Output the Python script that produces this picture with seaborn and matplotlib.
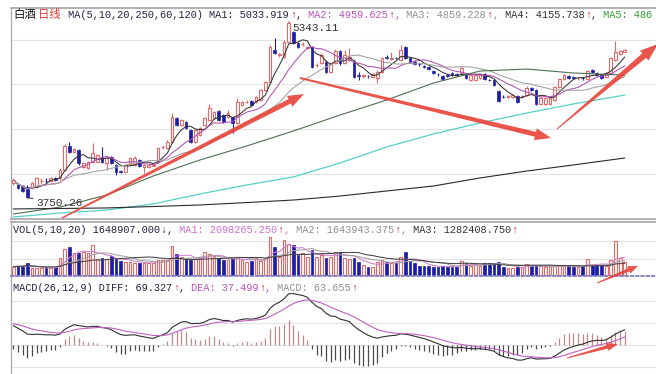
import numpy as np
import pandas as pd
import matplotlib
matplotlib.use("Agg")
import matplotlib.pyplot as plt
from matplotlib.patches import Polygon
import seaborn as sns

# ---------------- data ----------------
opens = [3881,3872,3859,3850,3844,3850,3901,3904,3904,3931,
         3926,4001,4222,4162,4183,4031,4017,4077,4077,4122,
         4062,4122,4047,3990,3986,4053,4047,4089,4028,4030,
         4040,4077,4210,4198,4258,4470,4409,4439,4364,4258,
         4319,4409,4455,4473,4536,4500,4482,4482,4428,4591,
         4618,4627,4618,4636,4727,4799,5090,5044,5026,5162,
         5253,5153,5140,5108,5117,4950,4972,4984,4893,4969,
         5081,4969,5000,4984,4860,4858,4852,4847,4833,4893,
         5029,5012,5016,5000,5120,5014,4984,4962,4940,4938,
         4899,4870,4854,4860,4878,4870,4878,4869,4818,4818,
         4833,4869,4820,4818,4718,4666,4665,4666,4672,4665,
         4681,4748,4727,4597,4597,4597,4636,4757,4827,4854,
         4847,4833,4834,4827,4908,4878,4869,4847,4878,5000,
         5051,5074]
closes = [3911,3835,3813,3756,3881,3926,3906,3901,3926,3911,
          4001,4222,4167,4192,4062,4062,4077,4153,4137,4077,
          4107,4062,3986,3986,4047,4113,4113,4040,4047,4047,
          4050,4198,4214,4258,4485,4409,4455,4379,4258,4364,
          4379,4473,4564,4527,4455,4437,4518,4428,4618,4618,
          4620,4591,4663,4727,4799,5117,5062,5049,5162,5334,
          5153,5117,5144,5117,4935,4953,5044,4893,4969,5081,
          4969,5044,5029,4847,4857,4860,4850,4869,4893,5014,
          5014,5016,5014,5090,5014,4984,4963,4960,4938,4917,
          4878,4868,4827,4858,4863,4866,4924,4833,4863,4863,
          4869,4827,4818,4772,4627,4664,4667,4681,4615,4668,
          4742,4727,4597,4657,4652,4652,4757,4827,4863,4833,
          4833,4835,4832,4899,4893,4863,4838,4878,5014,5069,
          5081,5090]
highs = [3929,3883,3868,3861,3892,3938,3929,3926,3935,3940,
         4019,4233,4258,4200,4196,4070,4085,4243,4150,4213,
         4115,4130,4055,4000,4055,4122,4125,4100,4055,4055,
         4060,4210,4230,4273,4518,4480,4465,4450,4372,4372,
         4390,4485,4600,4540,4545,4510,4545,4490,4655,4630,
         4635,4640,4675,4740,4810,5135,5199,5065,5180,5343.11,
         5265,5165,5160,5130,5125,4975,5060,4995,4980,5095,
         5090,5090,5108,4995,4890,4875,4865,4880,4905,5025,
         5040,5071,5030,5135,5130,5025,4995,4975,4952,4948,
         4910,4882,4865,4872,4888,4880,4935,4880,4872,4872,
         4878,4878,4830,4828,4728,4678,4678,4690,4682,4680,
         4766,4758,4735,4665,4660,4662,4765,4836,4872,4862,
         4855,4845,4845,4908,4915,4888,4876,4888,5025,5171,
         5090,5098]
lows = [3865,3829,3806,3750.26,3829,3843,3874,3880,3895,3904,
        3915,3992,4155,4155,4051,4019,4010,4068,4070,4068,
        4001,4055,3956,3970,3980,4045,4040,4030,3974,4020,
        4035,4068,4195,4190,4250,4400,4400,4370,4250,4250,
        4310,4400,4445,4465,4445,4428,4475,4337,4420,4582,
        4605,4582,4610,4628,4718,4790,5050,5030,5015,5150,
        5145,5105,5125,5100,4925,4935,4962,4885,4885,4960,
        4955,4960,4990,4838,4818,4840,4835,4838,4790,4885,
        5005,5000,5005,4990,5005,4975,4955,4948,4928,4908,
        4870,4858,4818,4848,4855,4858,4870,4825,4810,4810,
        4825,4818,4805,4765,4618,4655,4655,4658,4605,4655,
        4672,4718,4588,4590,4590,4590,4628,4748,4818,4825,
        4825,4822,4822,4818,4885,4855,4830,4840,4870,4990,
        5045,5068]
volume_k = [1033,1115,1115,1446,826,826,826,826,909,1033,
            2065,3180,3428,2685,2685,2891,2685,3717,1941,2065,
            1941,2354,1941,1776,1652,1652,1528,1528,1446,1446,
            1528,1859,1859,1859,3593,2561,2272,1941,1859,1941,
            2272,2891,2602,2354,2065,1859,1859,1941,2189,1859,
            1652,1776,2065,1776,2065,4750,3511,2272,4337,3841,
            3717,2478,2685,2272,3098,2272,2478,2065,2272,2891,
            2891,2065,1941,2065,1652,1239,1033,1033,1652,1859,
            1652,1446,1528,2189,2891,1776,1528,1115,1115,1115,
            1033,1033,1115,1033,1033,1033,1776,1446,1115,1363,
            1115,1446,1528,1528,1652,950,826,826,1033,1033,
            1363,1115,1239,1115,1033,1115,1115,1115,1115,1115,
            1033,1033,1115,1941,1239,1239,1239,1115,1859,4254,
            2065,1649]

# long moving averages (read at sparse candles)
long_ma_idx = [0, 10, 20, 30, 40, 50, 60, 70, 80, 90, 100, 110, 120, 131]
ma60_vals  = [3602, 3665, 3774, 3947, 4092, 4219, 4355, 4500, 4636, 4790, 4899, 4917, 4881, 4862]
ma120_vals = [3575, 3611, 3638, 3693, 3784, 3865, 3938, 4065, 4210, 4328, 4428, 4518, 4600, 4681]
ma250_vals = [3648, 3652, 3657, 3670, 3684, 3706, 3729, 3765, 3811, 3856, 3929, 3992, 4047, 4110]

# MACD state at the start of the window
EMA12_START = 3900.0
EMA26_START = 3805.0
DEA_START = 100.0

main_grid = [5180, 4781, 4373, 3965]
vol_grid = [4216, 1984]
macd_grid = [202.4, 101.2, 0.0, -101.2]

# ---------------- derived indicators ----------------
cs = pd.Series(closes, dtype=float)
ma5 = cs.rolling(5, min_periods=1).mean()
ma10 = cs.rolling(10, min_periods=1).mean()
ma20 = cs.rolling(20, min_periods=1).mean()
vs = pd.Series(volume_k, dtype=float)
vma5 = vs.rolling(5, min_periods=1).mean()
vma10 = vs.rolling(10, min_periods=1).mean()
vma20 = vs.rolling(20, min_periods=1).mean()


def ema(vals, span, start):
    a = 2.0 / (span + 1)
    e = start
    out = []
    for v in vals:
        e = a * v + (1 - a) * e
        out.append(e)
    return np.array(out)


diff = ema(closes, 12, EMA12_START) - ema(closes, 26, EMA26_START)
dea = ema(diff, 9, DEA_START)
macd = 2 * (diff - dea)

# ---------------- figure ----------------
sns.set_theme(style="white")
plt.rcParams['font.family'] = ['Liberation Mono', 'DejaVu Sans Mono', 'Noto Sans CJK SC']

W, H = 656, 374
fig = plt.figure(figsize=(W / 100, H / 100), dpi=100)
fig.patch.set_facecolor('white')


def rect(x0, y0, x1, y1):
    return [x0 / W, 1 - y1 / H, (x1 - x0) / W, (y1 - y0) / H]


ax1 = fig.add_axes(rect(11, 8, 656, 219))
ax2 = fig.add_axes(rect(11, 222, 656, 276))
ax3 = fig.add_axes(rect(11, 276, 656, 374))

n = len(closes)
idx = np.arange(n)
SP = '#a8a8a8'
for ax in (ax1, ax2, ax3):
    ax.set_xlim(-0.49, 137.7)
    ax.set_xticks([])
    ax.set_yticks([])
    ax.set_facecolor('white')
    for s in ax.spines.values():
        s.set_visible(False)
    ax.spines['left'].set_visible(True)
    ax.spines['left'].set_color(SP)
    ax.spines['left'].set_linewidth(0.9)
ax1.spines['top'].set_visible(True); ax1.spines['top'].set_color(SP)
ax1.spines['bottom'].set_visible(True); ax1.spines['bottom'].set_color(SP)
ax2.spines['top'].set_visible(True); ax2.spines['top'].set_color(SP)
ax3.spines['top'].set_visible(True); ax3.spines['top'].set_color('#7c7cc4')
ax3.spines['top'].set_linestyle((0, (1.5, 1.5)))
ax3.spines['top'].set_zorder(6)

ax1.set_ylim(3556.8, 5470.6)
ax2.set_ylim(-124, 6572)
ax3.set_ylim(-133.4, 317.4)

for g in main_grid:
    ax1.axhline(g, color='#e2e2e2', lw=0.8, zorder=0)
for g in vol_grid:
    ax2.axhline(g, color='#e2e2e2', lw=0.8, zorder=0)
for g in macd_grid:
    ax3.axhline(g, color='#e2e2e2', lw=0.8, zorder=0)

UP = '#e46a6a'
DN = '#1c1ca6'
o = np.array(opens, float); c = np.array(closes, float)
h = np.array(highs, float); l = np.array(lows, float)
up = c >= o
top = np.maximum(o, c); bot = np.minimum(o, c)
body = np.maximum(top - bot, 3.0)
cols = np.where(up, UP, DN)
bw = 0.62

ax1.vlines(idx, top, h, colors=cols, lw=0.8, zorder=3)
ax1.vlines(idx, l, bot, colors=cols, lw=0.8, zorder=3)
ax1.bar(idx[up], body[up], bottom=bot[up], width=bw, facecolor='white',
        edgecolor=UP, linewidth=0.8, zorder=3)
ax1.bar(idx[~up], body[~up], bottom=bot[~up], width=bw, facecolor=DN,
        edgecolor=DN, linewidth=0.5, zorder=3)

# moving averages
sns.lineplot(x=idx, y=ma5.values, ax=ax1, color='#333333', lw=0.75, zorder=4)
sns.lineplot(x=idx, y=ma10.values, ax=ax1, color='#b050b0', lw=0.75, zorder=4)
sns.lineplot(x=idx, y=ma20.values, ax=ax1, color='#a0a0a0', lw=0.75, zorder=4)
sns.lineplot(x=long_ma_idx, y=ma60_vals, ax=ax1, color='#4f6f52', lw=0.8, zorder=4)
sns.lineplot(x=long_ma_idx, y=ma120_vals, ax=ax1, color='#55cfc8', lw=0.9, zorder=4)
sns.lineplot(x=long_ma_idx, y=ma250_vals, ax=ax1, color='#2a2a2a', lw=0.8, zorder=4)

# extreme labels
i_lo = int(np.argmin(l)); i_hi = int(np.argmax(h))
ax1.annotate(f"{l[i_lo]:.2f}", xy=(i_lo, l[i_lo]), xytext=(9, -5),
             textcoords='offset pixels', va='center', ha='left', fontsize=7.9,
             color='#333333', zorder=6,
             arrowprops=dict(arrowstyle='-', color='#333333', lw=0.7,
                             shrinkA=0, shrinkB=0))
ax1.annotate(f"{h[i_hi]:.2f}", xy=(i_hi, h[i_hi]), xytext=(4, -6),
             textcoords='offset pixels', va='center', ha='left', fontsize=7.9,
             color='#333333', zorder=6,
             arrowprops=dict(arrowstyle='-', color='#333333', lw=0.7,
                             shrinkA=0, shrinkB=0))

# volume
v = np.array(volume_k, float)
ax2.bar(idx[up], v[up], width=bw, facecolor='white', edgecolor=UP, linewidth=0.8, zorder=3)
ax2.bar(idx[~up], v[~up], width=bw, facecolor=DN, edgecolor=DN, linewidth=0.5, zorder=3)
sns.lineplot(x=idx, y=vma5.values, ax=ax2, color='#d080d0', lw=0.75, zorder=4)
sns.lineplot(x=idx, y=vma10.values, ax=ax2, color='#a0a0a0', lw=0.75, zorder=4)
sns.lineplot(x=idx, y=vma20.values, ax=ax2, color='#444444', lw=0.75, zorder=4)

# MACD
mcols = np.where(macd >= 0, '#c08a8a', '#4a4a4a')
ax3.vlines(idx, 0, macd, colors=mcols, lw=0.9, zorder=3)
sns.lineplot(x=idx, y=diff, ax=ax3, color='#303030', lw=0.8, zorder=4)
sns.lineplot(x=idx, y=dea, ax=ax3, color='#c060c0', lw=0.8, zorder=4)

# ---------------- overlay: headers & arrows ----------------
ov = fig.add_axes([0, 0, 1, 1])
ov.set_xlim(0, W); ov.set_ylim(H, 0); ov.axis('off'); ov.set_zorder(10)
ov.patch.set_alpha(0)

CW = 6.15
DARK = '#222244'; RED = '#c02020'; VIO = '#c050c0'; GRY = '#909090'; GRN = '#30a030'


def header(y, segs):
    x = 13.0
    for text, color in segs:
        cjk = any(ord(ch) > 0x2E80 for ch in text)
        units = sum(2 if ord(ch) > 0x2E80 else 1 for ch in text)
        ov.text(x, y, text, color=color, fontsize=8.2 if cjk else 7.38,
                va='center', ha='left',
                family=['Noto Sans CJK SC'] if cjk else ['Liberation Mono', 'DejaVu Sans Mono'])
        x += units * CW


header(14.5, [("白酒", '#111111'), ("日线", '#e03a3a'),
              (" MA(5,10,20,250,60,120) MA1: 5033.919", DARK), ("↑", RED), (",", DARK),
              (" MA2: 4959.625", VIO), ("↑", RED), (",", VIO),
              (" MA3: 4859.228", GRY), ("↑", RED), (",", GRY),
              (" MA4: 4155.738", '#333333'), ("↑", RED), (",", '#333333'),
              (" MA5: 486", GRN)])
header(230, [("VOL(5,10,20) 1648907.000", DARK), ("↓", DARK), (",", DARK),
             (" MA1: 2098265.250", '#d070d0'), ("↑", RED), (",", '#d070d0'),
             (" MA2: 1643943.375", GRY), ("↑", RED), (",", GRY),
             (" MA3: 1282408.750", '#333333'), ("↑", RED)])
header(288, [("MACD(26,12,9) DIFF: 69.327", DARK), ("↑", RED), (",", DARK),
             (" DEA: 37.499", VIO), ("↑", RED), (",", VIO),
             (" MACD: 63.655", GRY), ("↑", RED)])

ARROW = '#e8453c'


def arrow(tail, tip, wt, ws, hw, hl):
    tail = np.array(tail, float); tip = np.array(tip, float)
    d = tip - tail
    u = d / np.hypot(*d)
    nrm = np.array([-u[1], u[0]])
    neck = tip - u * hl
    pts = [tail + nrm * wt / 2, neck + nrm * ws / 2, neck + nrm * hw / 2, tip,
           neck - nrm * hw / 2, neck - nrm * ws / 2, tail - nrm * wt / 2]
    ov.add_patch(Polygon(pts, closed=True, facecolor=ARROW, edgecolor='none',
                         alpha=0.92, zorder=20))


arrow((62, 218), (304, 94), 1.5, 5, 12, 16)
arrow((300, 78), (551, 138), 2, 5, 12, 16)
arrow((557, 129), (658, 44), 1, 6, 13, 18)
arrow((597, 283), (638, 266), 1, 3.5, 8, 10)
arrow((567, 358), (618, 344), 1, 3.5, 8, 11)

fig.savefig("out.png", dpi=100, facecolor='white')
